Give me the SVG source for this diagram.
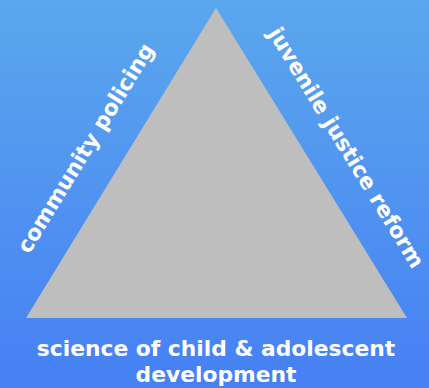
<svg xmlns="http://www.w3.org/2000/svg" width="429" height="388" viewBox="0 0 429 388">
<defs>
<linearGradient id="bg" x1="0" y1="0" x2="0" y2="1">
<stop offset="0" stop-color="#5ba7ed"/>
<stop offset="1" stop-color="#4680f4"/>
</linearGradient>
</defs>
<style>
.lbl{font-family:"DejaVu Sans",sans-serif;font-weight:bold;fill:#ffffff;text-anchor:middle;font-size:21.8px}
</style>
<rect width="429" height="388" fill="url(#bg)"/>
<g id="triangle">
<polygon points="216,8 26,318 407,318" fill="#bebebe"/>
</g>
<g id="left-label">
<text class="lbl" transform="translate(92,152) rotate(-58.5)">community policing</text>
</g>
<g id="right-label">
<text class="lbl" transform="translate(340,151.5) rotate(58.5)">juvenile justice reform</text>
</g>
<g id="bottom-label">
<text class="lbl" x="216" y="356">science of child &amp; adolescent</text>
<text class="lbl" x="216" y="382">development</text>
</g>
</svg>
